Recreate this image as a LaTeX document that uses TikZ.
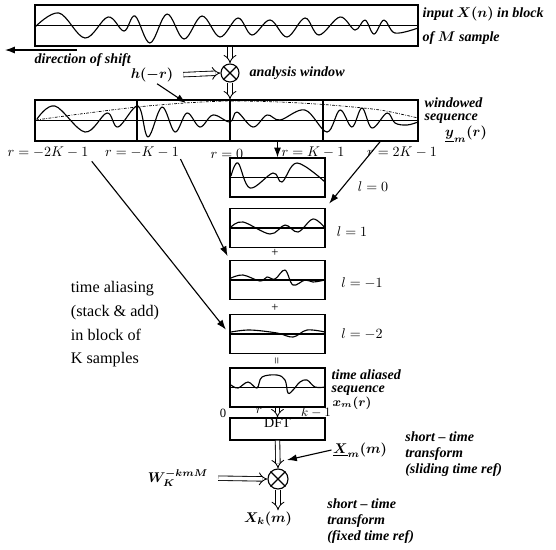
\documentclass[tikz,border=0pt]{standalone}
\usepackage{fontspec}
\setmainfont{Liberation Serif}
\usetikzlibrary{arrows.meta, positioning, calc}
\tikzset{
	sigbox/.style={
			shape=rectangle,
			draw=black,
			thick,
			inner sep=0pt
		},
	longbox/.style={
			sigbox,
			minimum width=9.575cm,
			minimum height=1.025cm
		},
	stackbox/.style={
			sigbox,
			minimum width=2.375cm,
			minimum height=0.975cm
		},
	mulnode/.style={
			circle,
			draw=black,
			thick,
			fill=white,
			minimum size=0.5cm,
			inner sep=0pt
		},
	wave/.style={thick, line join=round},
	midline/.style={thick},
	window/.style={line width=0.5pt, dash pattern=on 2pt off 1pt on 0.5pt off 1pt},
	dblarrow/.style={double, double distance=2.6pt, line width=0.6pt, -{Implies}},
	arr/.style={thick, -{Latex[length=7pt, width=5pt]}},
	ilabel/.style={font=\bfseries\itshape\boldmath, inner sep=1pt},
	blocktext/.style={font=\bfseries\itshape\fontsize{10}{11.4}\selectfont, align=left, inner sep=0pt},
	rlabel/.style={inner sep=1pt}
}

\begin{document}
\begin{tikzpicture}[x=0.025cm, y=-0.025cm]
  \useasboundingbox (0,0) rectangle (556,549);

  \node[longbox] (inbox) at (226.5,25.5) {};
  \node[longbox] (winbox) at (226.5,120.5) {};
  \node[stackbox] (l0) at (277.5,177.5) {};
  \node[stackbox] (l1) at (277.5,228) {};
  \node[stackbox] (lm1) at (277.5,280) {};
  \node[stackbox] (lm2) at (277.5,334) {};
  \node[stackbox] (alias) at (277.5,387.5) {};
  \node[sigbox, minimum width=2.375cm, minimum height=0.55cm] (dft) at (277.5,429) {};
  \node[anchor=north, inner sep=0.5pt] (dfttxt) at (dft.north) {DFT};

  \foreach \b in {inbox, winbox, l0, l1, lm1, lm2, alias}
    \draw[midline] (\b.west) -- (\b.east);
  \foreach \x in {137, 230, 323}
    \draw[thick] (\x,100) -- (\x,141);

  \draw[wave] plot[smooth, tension=0.6] coordinates {(35,27) (59,13) (85,38) (108,17) (124,31) (135,16) (150,43) (167,14) (184,39) (202,16) (220,37) (238,18) (252,35) (270,20) (287,37) (305,18) (319,35) (340,17) (355,30) (365,20) (374,34) (384,20) (395,33) (418,28)};
  \draw[wave] plot[smooth, tension=0.6] coordinates {(37,119) (55,106) (85,132) (107,113) (118,127) (138,106) (148,137) (162,107) (175,132) (187,113) (200,127) (213,115) (230,122) (237,112) (253,127) (267,115) (280,120) (305,110) (327,132) (340,110) (352,127) (362,108) (372,128) (387,113) (395,123) (407,125) (418,122)};
  \draw[window] plot[smooth] coordinates {(36,120) (80,114) (137,107) (185,103) (230,101) (280,102) (330,105) (380,110) (418,118)};
  \draw[wave] plot[smooth, tension=0.6] coordinates {(231,176) (238,163) (250,188) (273,173) (282,182) (297,163) (325,182)};
  \draw[wave] plot[smooth, tension=0.6] coordinates {(231,227) (243,222) (270,234) (285,225) (298,232) (313,219) (325,228)};
  \draw[wave] plot[smooth, tension=0.6] coordinates {(231,278) (243,275) (260,281) (267,277) (275,279) (285,270) (293,285) (305,280) (313,282) (325,280)};
  \draw[wave] plot[smooth, tension=0.6] coordinates {(231,332) (250,330) (277,333) (293,337) (307,330) (325,332)};
  \draw[wave] plot[smooth, tension=0.6] coordinates {(231,385) (238,388) (248,382) (257,388) (262,377) (277,375) (285,380) (288,393) (293,390) (300,382) (307,380) (315,387) (325,387)};

  \node[mulnode, minimum size=0.45cm] (mul1) at (230,73) {};
  \node[mulnode] (mul2) at (278,479) {};
  \foreach \m in {mul1, mul2} {
    \draw[thick] (\m.north west) -- (\m.south east);
    \draw[thick] (\m.north east) -- (\m.south west);
  }

  \node[ilabel, anchor=west] (intxt) at (421,14) {input $X(n)$ in block};
  \node[ilabel, anchor=west] (intxt2) at (421,38) {of $M$ sample};
  \coordinate (shiftstart) at (77,50);
  \coordinate (shiftend) at (5,50);
  \draw[arr] (shiftstart) -- (shiftend);
  \node[ilabel, anchor=west] (shifttxt) at (33,60) {direction of shift};
  \node[ilabel] (hr) at (152,75) {$h(-r)$};
  \node[ilabel, anchor=west] (anatxt) at (248,73) {analysis window};
  \draw[dblarrow] (inbox.south -| mul1) -- (mul1.north);
  \draw[dblarrow, shorten <=6pt] (hr.east) -- (mul1.west);
  \draw[dblarrow] (mul1.south) -- (winbox.north -| mul1);
  \coordinate (wpt) at (186,103);
  \draw[arr] (hr.-60) -- (wpt);

  \node[ilabel, anchor=west] (wintxt) at (423,103) {windowed};
  \node[ilabel, anchor=west] (seqtxt) at (423,119) {sequence};
  \node[ilabel] (ytxt) at (466,134) {$\underline{y}_m(r)$};

  \node[rlabel] (rmtwo) at (48,152) {$r=-2K-1$};
  \node[rlabel] (rmone) at (142,152) {$r=-K-1$};
  \node[rlabel] (rzero) at (227,154) {$r=0$};
  \node[rlabel] (rone) at (313,152) {$r=K-1$};
  \node[rlabel] (rtwo) at (402,152) {$r=2K-1$};

  \draw[arr] (winbox.south -| l0) -- (l0.north);
  \draw[arr, shorten >=4pt] ($(winbox.south west)!0.9!(winbox.south east)$) -- (l1.north east);
  \draw[arr, shorten >=3pt] (rmone.south east) -- (lm1.north west);
  \draw[arr, shorten <=2pt, shorten >=4pt] (rmtwo.south east) -- (lm2.west);

  \node[rlabel] (lz) at (373,187) {$l=0$};
  \node[rlabel] (lo) at (352,232) {$l=1$};
  \node[rlabel] (lmo) at (362,283) {$l=-1$};
  \node[rlabel] (lmt) at (362,334) {$l=-2$};
  \node[font=\small, inner sep=0pt] (plus1) at (275,253) {+};
  \node[font=\small, inner sep=0pt] (plus2) at (275,308) {+};
  \node[font=\small, inner sep=0pt, rotate=90] (eqs) at (278,361) {=};

  \node[font=\fontsize{11.5}{17}\selectfont, align=left, anchor=north west] (tatxt) at (66,276) {time aliasing\\(stack \& add)\\in block of\\K samples};

  \node[ilabel, anchor=west] (altxt) at (330,375) {time aliased};
  \node[ilabel, anchor=west] (alseq) at (330,391) {sequence};
  \node[ilabel, font=\bfseries\itshape\boldmath\small] (xtxt) at (352,403) {$x_m(r)$};
  \node[rlabel, font=\small] (zero) at (223,413) {0};
  \node[rlabel, font=\small] (rsmall) at (259,411) {$r$};
  \node[rlabel, font=\small] (kone) at (316,413) {$k-1$};
  \draw[dblarrow] (alias.south) -- (dft.north);
  \draw[dblarrow] (dft.south) -- (mul2.north);

  \node[ilabel] (wtxt) at (178,478) {$W_K^{-kmM}$};
  \draw[dblarrow, shorten <=6pt] (wtxt.east) -- (mul2.west);
  \node[ilabel] (xmtxt) at (360,450) {$\underline{X}_m(m)$};
  \coordinate (xmtip) at (287,460);
  \draw[arr] (xmtxt.west) -- (xmtip);
  \node[blocktext, anchor=north west] (slidetxt) at (405,431) {short -- time\\transform\\(sliding time ref)};

  \node[ilabel] (xktxt) at (268,519) {$X_k(m)$};
  \draw[dblarrow] (mul2.south) -- (mul2.south |- xktxt.north);
  \node[blocktext, anchor=north west] (fixtxt) at (327,498) {short -- time\\transform\\(fixed time ref)};

\end{tikzpicture}
\end{document}
